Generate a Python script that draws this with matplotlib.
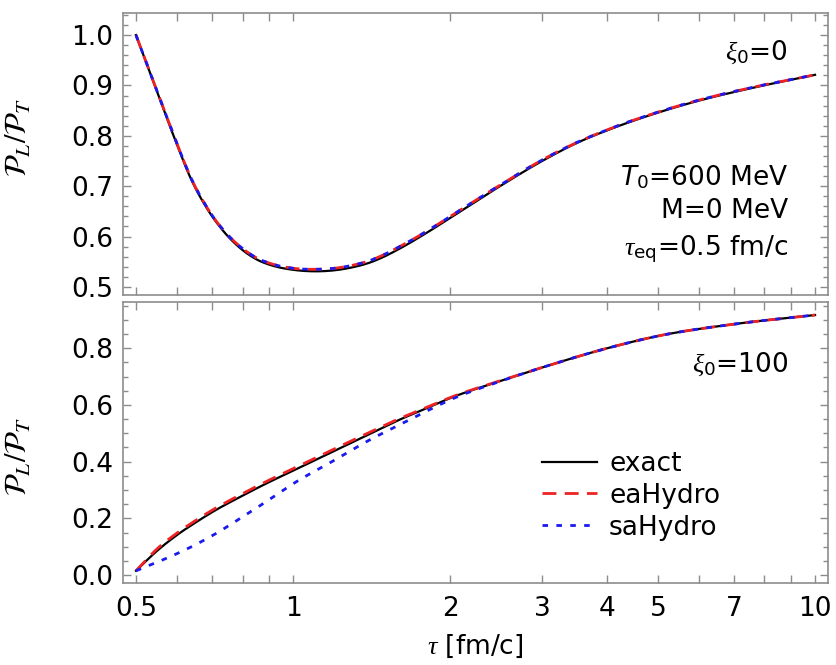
import numpy as np
import matplotlib
matplotlib.use("Agg")
import matplotlib.pyplot as plt
from matplotlib.ticker import FixedLocator, FixedFormatter, MultipleLocator

plt.rcParams['font.family'] = ['DejaVu Sans']
plt.rcParams['mathtext.fontset'] = 'custom'
plt.rcParams['mathtext.rm'] = 'DejaVu Sans'
plt.rcParams['mathtext.it'] = 'Liberation Serif:italic'
plt.rcParams['mathtext.sf'] = 'DejaVu Sans:italic'

# --- data ---------------------------------------------------------------
# top panel, xi0 = 0
tau_top = [0.5, 0.525, 0.55, 0.575, 0.6, 0.635, 0.68, 0.735, 0.79, 0.85, 0.915,
           1.0, 1.1, 1.2, 1.3, 1.4, 1.5, 1.6, 1.8, 2.0, 2.5, 3.0, 3.5, 4.0, 5.0,
           6.0, 7.5, 10.0]
exact_top = [1.0, 0.941, 0.885, 0.831, 0.781, 0.718, 0.660, 0.611, 0.578, 0.555,
             0.542, 0.534, 0.531, 0.533, 0.539, 0.548, 0.561, 0.576, 0.607, 0.637,
             0.701, 0.750, 0.786, 0.811, 0.846, 0.870, 0.894, 0.921]
ea_top = [1.0, 0.942, 0.886, 0.833, 0.783, 0.720, 0.662, 0.613, 0.581, 0.558,
          0.545, 0.537, 0.535, 0.537, 0.543, 0.552, 0.565, 0.580, 0.610, 0.640,
          0.703, 0.752, 0.787, 0.812, 0.847, 0.871, 0.895, 0.921]
sa_top = ea_top

# bottom panel, xi0 = 100
tau_bot = [0.5, 0.55, 0.6, 0.65, 0.7, 0.8, 0.9, 1.0, 1.2, 1.4, 1.6, 1.8, 2.0,
           2.5, 3.0, 4.0, 5.0, 7.0, 10.0]
exact_bot = [0.015, 0.087, 0.142, 0.185, 0.222, 0.280, 0.328, 0.368, 0.438, 0.497,
             0.548, 0.588, 0.624, 0.685, 0.732, 0.800, 0.843, 0.885, 0.917]
ea_bot = [0.015, 0.094, 0.149, 0.192, 0.229, 0.287, 0.335, 0.375, 0.445, 0.503,
          0.552, 0.591, 0.626, 0.686, 0.732, 0.800, 0.843, 0.885, 0.917]
sa_bot = [0.015, 0.046, 0.076, 0.107, 0.139, 0.205, 0.266, 0.322, 0.405, 0.476,
          0.530, 0.578, 0.618, 0.684, 0.732, 0.800, 0.843, 0.885, 0.917]

xticks = [0.5, 0.6, 0.7, 0.8, 0.9, 1, 2, 3, 4, 5, 6, 7, 8, 9, 10]
xticklabels = ['0.5', '', '', '', '', '1', '2', '3', '4', '5', '', '7', '', '', '10']


def smooth(x, y, n=400):
    """smooth curve through the read points, cubic Hermite in log(x)"""
    lx = np.log10(x)
    y = np.asarray(y)
    m = np.gradient(y, lx)
    xs = np.linspace(lx[0], lx[-1], n)
    idx = np.clip(np.searchsorted(lx, xs) - 1, 0, len(lx) - 2)
    h = lx[idx + 1] - lx[idx]
    t = (xs - lx[idx]) / h
    h00 = 2 * t**3 - 3 * t**2 + 1
    h10 = t**3 - 2 * t**2 + t
    h01 = -2 * t**3 + 3 * t**2
    h11 = t**3 - t**2
    ys = h00 * y[idx] + h10 * h * m[idx] + h01 * y[idx + 1] + h11 * h * m[idx + 1]
    return 10**xs, ys


fig = plt.figure(figsize=(8.37, 6.65), dpi=100)
ax1 = fig.add_axes([0.147, 0.5564, 0.8423, 0.424])
ax2 = fig.add_axes([0.147, 0.1233, 0.8423, 0.4226])

frame_col = '#8c8c8c'
fs = 19

for ax in (ax1, ax2):
    ax.set_xscale('log')
    ax.set_xlim(0.4723, 10.59)
    ax.xaxis.set_major_locator(FixedLocator(xticks))
    ax.xaxis.set_minor_locator(FixedLocator([]))
    ax.tick_params(which='both', direction='in', top=True, right=True,
                   color=frame_col, labelsize=fs, width=1.0)
    ax.tick_params(which='major', length=6)
    ax.tick_params(which='minor', length=3.5)
    ax.tick_params(axis='y', pad=7)
    ax.tick_params(axis='x', pad=9)
    for s in ax.spines.values():
        s.set_color(frame_col)
        s.set_linewidth(1.2)

# top panel
x, y = smooth(tau_top, exact_top)
ax1.plot(x, y, color='black', lw=1.6)
x, y = smooth(tau_top, ea_top)
ax1.plot(x, y, color='#ee2222', lw=2.0, dashes=(5, 3))
x, y = smooth(tau_top, sa_top)
ax1.plot(x, y, color='#1a1aee', lw=2.0, dashes=(2, 3))
ax1.set_ylim(0.484, 1.0437)
ax1.yaxis.set_major_locator(MultipleLocator(0.1))
ax1.yaxis.set_minor_locator(MultipleLocator(0.02))
ax1.yaxis.set_major_formatter(plt.FormatStrFormatter('%.1f'))
ax1.xaxis.set_major_formatter(FixedFormatter([''] * len(xticks)))
ax1.set_ylabel(r'$\mathcal{P}_L/\mathcal{P}_T$', fontsize=22, math_fontfamily='stix')
ax1.yaxis.set_label_coords(-0.128, 0.56)

ax1.text(0.943, 0.833, r'$\xi_{\rm 0}$=0', transform=ax1.transAxes, ha='right',
         va='baseline', fontsize=fs)
ax1.text(0.943, 0.390, r'$\mathsf{T}_{\rm 0}$=600 MeV', transform=ax1.transAxes,
         ha='right', va='baseline', fontsize=fs)
ax1.text(0.943, 0.273, 'M=0 MeV', transform=ax1.transAxes, ha='right',
         va='baseline', fontsize=fs)
ax1.text(0.943, 0.142, r'$\tau_{\rm eq}$=0.5 fm/c', transform=ax1.transAxes,
         ha='right', va='baseline', fontsize=fs)

# bottom panel
x, y = smooth(tau_bot, exact_bot)
ax2.plot(x, y, color='black', lw=1.6, label='exact')
x, y = smooth(tau_bot, ea_bot)
ax2.plot(x, y, color='#ee2222', lw=2.0, dashes=(5, 3), label='eaHydro')
x, y = smooth(tau_bot, sa_bot)
ax2.plot(x, y, color='#1a1aee', lw=2.0, dashes=(2, 3), label='saHydro')
ax2.set_ylim(-0.028, 0.963)
ax2.yaxis.set_major_locator(MultipleLocator(0.2))
ax2.yaxis.set_minor_locator(MultipleLocator(0.05))
ax2.yaxis.set_major_formatter(plt.FormatStrFormatter('%.1f'))
ax2.xaxis.set_major_formatter(FixedFormatter(xticklabels))
ax2.set_ylabel(r'$\mathcal{P}_L/\mathcal{P}_T$', fontsize=22, math_fontfamily='stix')
ax2.yaxis.set_label_coords(-0.128, 0.45)
ax2.set_xlabel(r'$\tau$ [fm/c]', fontsize=fs, labelpad=8)

ax2.text(0.943, 0.752, r'$\xi_{\rm 0}$=100', transform=ax2.transAxes, ha='right',
         va='baseline', fontsize=fs)

ax2.legend(loc='upper left', bbox_to_anchor=(0.594, 0.47), frameon=False, fontsize=fs,
           handlelength=2.1, handletextpad=0.45, labelspacing=0.22,
           borderpad=0, borderaxespad=0)

fig.savefig('out.png', dpi=100)
